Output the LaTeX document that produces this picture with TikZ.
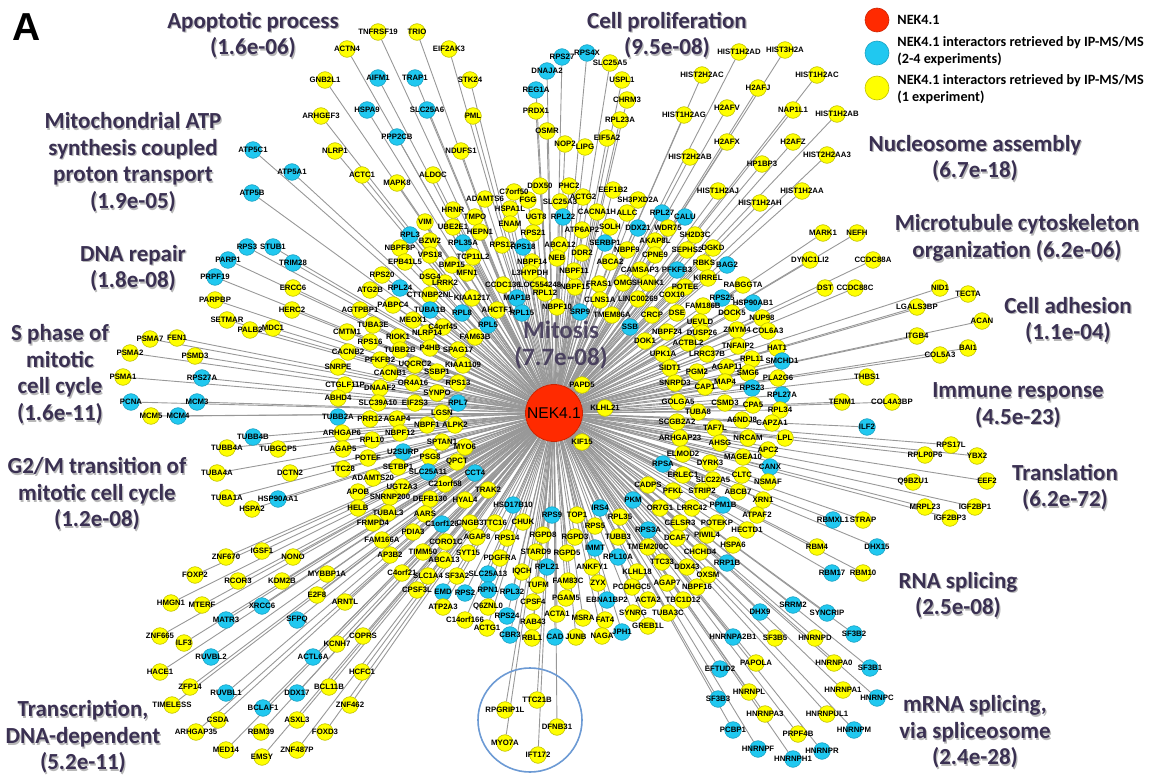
\documentclass[tikz,border=0pt]{standalone}
\usepackage{fontspec}
\setmainfont{Carlito}
\newfontfamily\genefont{Liberation Sans}
\definecolor{nodeyel}{RGB}{255,255,0}
\definecolor{nodecya}{RGB}{32,200,240}
\definecolor{hubred}{RGB}{255,42,0}
\definecolor{termcol}{RGB}{58,48,82}
\definecolor{linkcol}{RGB}{152,152,152}
\definecolor{ringcol}{RGB}{108,154,212}
\pgfdeclarelayer{edges}
\pgfsetlayers{edges,main}
\tikzset{
	gene/.style={circle,inner sep=0pt,minimum size=8.3pt,line width=0.3pt},
	yel/.style={fill=nodeyel,draw=nodeyel!75!black},
	cya/.style={fill=nodecya,draw=nodecya!80!black},
	glabel/.style={inner sep=0pt,font=\genefont\bfseries\fontsize{3.9}{4}\selectfont},
	link/.style={draw=linkcol,line width=0.45pt},
	hubnode/.style={circle,inner sep=0pt,minimum size=28.5pt,fill=hubred,draw=hubred!80!black,line width=0.4pt},
	term/.style={align=center,text=termcol,font=\bfseries\fontsize{11.5}{13.3}\selectfont,inner sep=0pt},
	termshadow/.style={term,text=black,opacity=0.28},
	legtext/.style={anchor=west,align=left,inner sep=0pt,font=\bfseries\fontsize{7.1}{8.8}\selectfont}
}
\def\genes{
378/32/yel/TNFRSF19, 417/32/yel/TRIO, 347/49/yel/ACTN4, 449/49/yel/EIF2AK3, 325/80/yel/GNB2L1, 378/78/cya/AIFM1, 415/78/cya/TRAP1, 470/80/yel/STK24, 367/110/cya/HSPA9, 427/110/cya/SLC25A6, 473/116/yel/PML, 321/116/yel/ARHGEF3, 397/137/cya/PPP2CB, 335/151/yel/NLRP1, 461/151/yel/NDUFS1, 362/175/yel/ACTC1, 397/183/yel/MAPK8, 433/175/yel/ALDOC,
253/150/cya/ATP5C1, 292/172/cya/ATP5A1, 252/193/cya/ATP5B, 247/247/cya/RPS3, 273/247/cya/STUB1, 228/260/cya/PARP1, 293/263/cya/TRIM28,
562/57/cya/RPS27, 547/71/cya/DNAJA2, 536/90/cya/REG1A, 536/111/yel/PRDX1, 547/131/yel/OSMR, 565/144/yel/NOP2, 585/147/yel/LIPG, 514/192/yel/C7orf50, 540/186/yel/DDX50, 569/186/yel/PHC2, 485/199/yel/ADAMTS6, 528/200/yel/FGG, 560/202/yel/SLC25A3, 510/209/yel/HSPA1L, 453/210/yel/HRNR, 536/217/yel/UGT8, 563/217/cya/RPL22, 475/217/yel/TMPO, 510/224/yel/ENAM, 425/222/yel/VIM, 453/227/yel/UBE2E1, 480/232/yel/HEPN1, 533/233/yel/RPS21, 582/230/yel/ATP6AP2, 410/235/cya/RPL3, 430/241/yel/BZW2, 463/243/cya/RPL35A, 502/245/yel/RPS12, 523/247/cya/RPS18, 560/245/yel/ABCA12, 582/253/yel/DDR2, 400/248/yel/NBPF8P, 430/255/yel/VPS18, 473/257/yel/TCP11L2, 532/262/yel/NBPF14, 557/258/yel/NEB, 405/262/yel/EPB41L5, 452/265/yel/BMP15,
587/53/cya/RPS4X, 610/63/yel/SLC25A5, 622/80/yel/USPL1, 627/100/yel/CHRM3, 620/120/yel/RPL23A, 607/138/yel/EIF5A2, 739/52/yel/HIST1H2AD, 785/50/yel/HIST3H2A, 702/75/yel/HIST2H2AC, 817/75/yel/HIST1H2AC, 758/88/yel/H2AFJ, 684/115/yel/HIST1H2AG, 727/108/yel/H2AFV, 793/110/yel/NAP1L1, 837/114/yel/HIST1H2AB, 727/142/yel/H2AFX, 793/142/yel/H2AFZ, 690/157/yel/HIST2H2AB, 827/155/yel/HIST2H2AA3, 762/164/yel/HP1BP3, 718/191/yel/HIST1H2AJ, 802/191/yel/HIST1H2AA, 760/203/yel/HIST1H2AH, 613/190/yel/EEF1B2, 583/197/yel/ACTG2, 638/200/yel/SH3PXD2A, 597/212/yel/CACNA1H, 627/213/yel/ALLC, 662/213/cya/RPL27, 685/217/cya/CALU, 610/227/yel/SOLH, 638/228/cya/DDX21, 668/228/yel/WDR75, 605/243/cya/SERBP1, 655/241/yel/AKAP8L, 695/235/yel/SH2D3C, 627/250/yel/NBPF9, 655/255/yel/CPNE9, 687/250/yel/SEPHS2, 713/248/yel/DGKD, 610/262/yel/ABCA2, 704/263/yel/RBKS, 727/265/cya/BAG2, 823/233/yel/MARK1, 857/233/yel/NEFH, 810/260/yel/DYNC1LI2, 873/260/yel/CCDC88A,
215/277/cya/PRPF19, 215/300/yel/PARPBP, 227/320/yel/SETMAR, 250/330/yel/PALB2, 273/328/yel/MDC1, 293/288/yel/ERCC6, 292/310/yel/HERC2, 150/339/yel/PSMA7, 177/338/yel/FEN1, 130/353/yel/PSMA2, 195/356/yel/PSMD3, 123/377/yel/PSMA1, 202/378/cya/RPS27A, 131/402/cya/PCNA, 197/402/cya/MCM3, 151/416/yel/MCM5, 178/416/cya/MCM4, 253/437/cya/TUBB4B, 227/448/yel/TUBB4A, 278/449/yel/TUBGCP5, 217/473/yel/TUBA4A, 290/473/yel/DCTN2, 227/498/yel/TUBA1A, 278/499/cya/HSP90AA1, 252/509/yel/HSPA2,
382/275/yel/RPS20, 430/277/yel/DSG4, 467/273/yel/MFN1, 530/273/yel/L3HYPDH, 503/285/yel/CCDC136, 540/285/yel/LOC554248, 575/287/yel/NBPF15, 574/271/yel/NBPF11, 445/283/yel/LRRK2, 370/290/yel/ATG2B, 400/288/cya/RPL24, 430/295/yel/CTTNBP2NL, 472/298/yel/KIAA1217, 517/298/cya/MAP1B, 545/293/yel/RPL12, 557/307/yel/NBPF10, 360/310/yel/AGTPBP1, 393/305/yel/PABPC4, 430/310/cya/TUBA1B, 462/313/cya/RPL8, 497/310/yel/AHCTF1, 522/313/cya/RPL15, 580/312/cya/SRP9, 413/320/yel/MEOX1, 443/327/yel/C4orf45, 488/325/cya/RPL5, 373/325/yel/TUBA3E, 347/332/yel/CMTM1, 398/337/yel/RIOK1, 427/333/yel/NLRP14, 475/337/yel/FAM63B, 370/342/yel/RPS16, 400/350/yel/TUBB2B, 430/348/yel/P4HB, 458/350/yel/SPAG17, 348/352/yel/CACNB2, 380/360/yel/PFKFB2, 415/365/yel/UQCRC2, 463/365/yel/KIAA1109, 338/367/yel/SNRPE, 390/373/yel/CACNB1, 437/372/yel/SSBP1, 345/385/yel/CTGLF11P, 380/388/yel/DNAAF2, 413/383/yel/OR4A16, 458/383/yel/RPS13, 437/393/yel/SYNPO, 338/398/yel/ABHD4, 378/403/yel/SLC39A10, 415/403/yel/EIF2S3, 458/403/cya/RPL7, 442/413/yel/LGSN, 338/417/cya/TUBB2A, 370/419/yel/PRR12, 397/419/yel/AGAP4, 427/425/yel/NBPF1, 455/425/yel/ALPK2, 342/433/yel/ARHGAP6, 400/433/yel/NBPF12, 372/440/yel/RPL10, 442/442/yel/SPTAN1, 465/447/yel/MYO6, 343/449/yel/AGAP5, 403/452/cya/U2SURP, 430/457/yel/PSG8, 368/458/yel/POTEF, 457/462/yel/QPCT, 343/469/yel/TTC28, 398/467/yel/SETBP1, 428/472/cya/SLC25A11, 475/473/cya/CCT4, 373/478/yel/ADAMTS20, 445/484/yel/C21orf58, 402/487/yel/UGT2A3, 488/490/yel/TRAK2, 358/492/yel/APOB, 390/497/yel/SNRNP200, 430/499/yel/DEFB130, 465/500/yel/HYAL4, 513/505/cya/HSD17B10, 358/508/yel/HELB, 388/513/yel/TUBAL3, 425/514/yel/AARS, 552/515/cya/RPS9, 577/515/yel/TOP1, 373/523/yel/FRMPD4, 442/524/cya/C1orf126, 470/523/yel/CNGB3, 495/523/yel/TTC16, 523/522/yel/CHUK, 582/385/yel/PAPD5, 582/442/yel/KIF15,
640/270/yel/CAMSAP3, 677/270/cya/PFKFB3, 708/278/yel/KIRREL, 599/284/yel/FRAS1, 623/283/yel/OMG, 648/283/yel/SHANK1, 685/287/yel/POTEE, 743/285/yel/RABGGTA, 825/288/yel/DST, 855/288/yel/CCDC88C, 600/300/yel/CLNS1A, 638/299/yel/LINC00269, 672/295/yel/COX10, 722/298/cya/RPS25, 753/303/cya/HSP90AB1, 703/306/yel/FAM186B, 677/313/yel/DSE, 732/313/yel/DOCK5, 762/318/yel/NUP98, 612/315/yel/TMEM86A, 652/315/yel/CRCP, 630/327/cya/SSB, 700/322/yel/UEVLD, 737/330/yel/ZMYM4, 768/331/yel/COL6A3, 667/332/yel/NBPF24, 702/333/yel/DUSP26, 645/341/yel/DOK1, 688/343/yel/ACTBL2, 738/346/yel/TNFAIP2, 777/348/yel/HAT1, 663/354/yel/UPK1A, 707/354/yel/LRRC37B, 752/359/yel/RPL11, 782/361/cya/SMCHD1, 670/368/yel/SIDT1, 697/372/yel/PGM2, 727/367/yel/AGAP11, 748/373/yel/SMG6, 867/377/yel/THBS1, 675/383/yel/SNRPD3, 705/387/yel/CAP1, 725/382/yel/MAP4, 778/378/yel/PLA2G6, 752/388/cya/RPS23, 782/395/cya/RPL27A, 842/402/yel/TENM1, 678/402/yel/GOLGA5, 725/403/yel/CSMD3, 753/405/yel/CPA5, 605/408/yel/KLHL21, 698/412/yel/TUBA8, 780/410/yel/RPL34, 742/420/yel/A6NDJ8, 677/422/yel/SCGB2A2, 715/428/yel/TAF7L, 772/423/yel/CAPZA1, 867/427/cya/ILF2, 680/438/yel/ARHGAP23, 748/438/yel/NRCAM, 785/438/yel/LPL, 720/443/yel/AHSG, 683/454/yel/ELMOD2, 743/457/yel/MAGEA10, 768/450/yel/APC2, 710/463/yel/DYRK3, 663/464/cya/RPSA, 770/467/cya/CANX, 683/475/yel/ERLEC1, 742/475/yel/CLTC, 713/480/yel/SLC22A5, 768/482/yel/NSMAF, 648/485/yel/CADPS, 673/491/yel/PFKL, 702/491/yel/STRIP2, 738/492/yel/ABCB7, 763/500/yel/XRN1, 633/500/cya/PKM, 660/508/yel/OR7G1, 692/508/yel/LRRC42, 723/505/cya/PPM1B, 757/515/yel/ATPAF2, 600/508/cya/IRS4, 620/517/yel/RPL35, 595/526/yel/RPS5, 680/523/yel/CELSR3, 717/523/yel/POTEKP, 747/530/yel/HECTD1, 833/520/cya/RBMXL1, 863/520/yel/STRAP,
940/288/yel/NID1, 968/294/yel/TECTA, 917/307/yel/LGALS3BP, 982/321/yel/ACAN, 917/336/yel/ITGB4, 968/348/yel/BAI1, 940/355/yel/COL5A3, 892/402/yel/COL4A3BP, 951/445/yel/RPS17L, 925/455/yel/RPLP0P6, 977/456/yel/YBX2, 987/481/yel/EEF2, 913/482/yel/Q9BZU1, 975/507/yel/IGF2BP1, 925/507/yel/MRPL23, 950/518/yel/IGF2BP3,
262/551/yel/IGSF1, 226/557/yel/ZNF670, 293/557/yel/NONO, 195/575/yel/FOXP2, 238/581/yel/RCOR3, 282/581/yel/KDM2B, 171/603/yel/HMGN1, 202/605/yel/MTERF, 262/606/cya/XRCC6, 226/620/cya/MATR3, 160/636/yel/ZNF665, 184/643/yel/ILF3, 211/657/cya/RUVBL2, 160/672/yel/HACE1, 190/687/yel/ZFP14, 226/693/cya/RUVBL1, 172/705/yel/TIMELESS, 263/708/cya/BCLAF1, 218/720/yel/CSDA, 196/732/yel/ARHGAP35, 261/732/yel/RBM39, 226/750/yel/MED14, 262/757/yel/EMSY,
382/540/yel/FAM166A, 413/532/yel/PDIA3, 446/542/yel/CORO1C, 477/537/yel/AGAP8, 507/538/yel/RPS14, 543/535/yel/RGPD8, 575/537/yel/RGPD3, 390/555/yel/AP3B2, 423/552/yel/TIMM50, 444/560/yel/ABCA13, 468/553/yel/SYT15, 500/558/yel/PDGFRA, 536/552/yel/STARD9, 567/553/yel/RGPD5, 327/574/yel/MYBBP1A, 402/573/yel/C4orf21, 428/576/yel/SLC1A4, 457/576/yel/SF3A2, 488/574/cya/SLC25A13, 522/572/yel/IQCH, 547/567/cya/RPL21, 568/581/yel/FAM83C, 538/585/yel/TUFM, 417/590/yel/CPSF3L, 443/592/cya/EMD, 465/593/cya/RPS2, 488/590/cya/RPN1, 512/592/cya/RPL32, 533/602/yel/CPSF4, 566/598/yel/PGAM5, 317/595/yel/E2F8, 345/602/yel/ARNTL, 297/620/cya/SFPQ, 443/607/yel/ATP2A3, 488/607/yel/Q6ZNL0, 465/620/yel/C14orf166, 507/616/cya/RPS24, 533/622/yel/RAB43, 557/614/yel/ACTA1, 583/618/yel/MSRA, 487/628/yel/ACTG1, 510/635/cya/CBR3, 532/638/yel/RBL1, 555/637/cya/CAD, 576/637/yel/JUNB, 363/636/yel/COPRS, 337/644/yel/KCNH7, 313/657/cya/ACTL6A, 362/672/yel/HCFC1, 329/687/yel/BCL11B, 297/693/cya/DDX17, 350/705/yel/ZNF462, 297/720/yel/ASXL3, 325/732/yel/FOXD3, 297/750/yel/ZNF487P, 537/700/yel/TTC21B, 505/710/yel/RPGRIP1L, 557/727/yel/DFNB31, 505/743/yel/MYO7A, 538/755/yel/IFT172,
648/530/cya/RPS3A, 618/537/yel/TUBB3, 677/538/yel/DCAF7, 707/535/yel/PIWIL4, 733/545/yel/HSPA6, 817/547/yel/RBM4, 877/547/cya/DHX15, 595/548/cya/IMMT, 648/547/yel/TMEM200C, 700/552/yel/CHCHD4, 618/557/cya/RPL10A, 727/563/cya/RRP1B, 832/573/cya/RBM17, 863/573/yel/RBM10, 592/567/yel/ANKFY1, 662/562/yel/TTC33, 637/572/yel/KLHL18, 687/567/yel/DDX43, 708/575/yel/OXSM, 598/583/yel/ZYX, 632/587/yel/PCDHGC5, 667/583/yel/AGAP7, 697/587/yel/NBPF16, 607/600/cya/EBNA1BP2, 648/600/yel/ACTA2, 683/600/yel/TBC1D12, 793/605/cya/SRRM2, 760/612/cya/DHX9, 827/613/cya/SYNCRIP, 605/620/yel/FAT4, 633/613/yel/SYNRG, 668/613/yel/TUBA3C, 648/626/yel/GREB1L, 622/632/cya/JPH1, 602/636/yel/NAGA, 854/634/cya/SF3B2, 733/637/cya/HNRNPA2B1, 775/638/yel/SF3B5, 815/638/yel/HNRNPD, 756/663/yel/PAPOLA, 720/669/cya/EFTUD2, 834/663/yel/HNRNPA0, 870/668/cya/SF3B1, 749/692/yel/HNRNPL, 843/690/yel/HNRNPA1, 877/698/cya/HNRNPC, 718/699/cya/SF3B3, 765/714/yel/HNRNPA3, 827/714/yel/HNRNPUL1, 733/730/cya/PCBP1, 854/730/cya/HNRNPM, 798/734/yel/PRPF4B, 758/749/cya/HNRNPF, 822/751/cya/HNRNPR, 793/759/cya/HNRNPH1}
\begin{document}
\begin{tikzpicture}[x=0.5pt,y=-0.5pt]
	\useasboundingbox (0,0) rectangle (1153,776);
	\node[inner sep=0pt,font=\genefont\bfseries\fontsize{19.5}{20}\selectfont] (panel) at (27,27) {A};
	\foreach \x/\y/\t [count=\k] in {
		253/35/{Apoptotic process\\(1.6e-06)},
		667/35/{Cell proliferation\\(9.5e-08)},
		133/162/{Mitochondrial ATP\\synthesis coupled\\proton transport\\(1.9e-05)},
		133/268/{DNA repair\\(1.8e-08)},
		60/374/{S phase of\\mitotic\\cell cycle\\(1.6e-11)},
		97/494/{G2/M transition of\\mitotic cell cycle\\(1.2e-08)},
		83/737/{Transcription,\\DNA-dependent\\(5.2e-11)},
		975/158/{Nucleosome assembly\\(6.7e-18)},
		1017/238/{Microtubule cytoskeleton\\organization (6.2e-06)},
		1068/320/{Cell adhesion\\(1.1e-04)},
		1018/405/{Immune response\\(4.5e-23)},
		1065/487/{Translation\\(6.2e-72)},
		958/595/{RNA splicing\\(2.5e-08)},
		975/732/{mRNA splicing,\\via spliceosome\\(2.4e-28)}}{
		\node[termshadow] (s\k) at (\x+1.2,\y+1.8) {\t};
		\node[term] (t\k) at (\x,\y) {\t};
	}
	\node[hubnode] (hub) at (554,413) {};
	\foreach \x/\y/\c/\n in \genes {
		\node[gene,\c] (\n) at (\x,\y) {};
	}
	\begin{pgfonlayer}{edges}
		\foreach \x/\y/\c/\n in \genes {
			\draw[link] (hub) -- (\n);
		}
	\end{pgfonlayer}
	\node[term,opacity=0.85,font=\bfseries\fontsize{12.5}{13.3}\selectfont] (mitosis) at (561,345) {Mitosis\\(7.7e-08)};
	\foreach \x/\y/\c/\n in \genes {
		\node[glabel] (\n-l) at (\n) {\n};
	}
	\node[font=\genefont\fontsize{7.8}{8}\selectfont,inner sep=0pt] (hublabel) at (hub) {NEK4.1};
	\draw[ringcol,line width=0.8pt] (530,720) circle (26pt);
	\node[circle,inner sep=0pt,minimum size=12pt,fill=hubred,draw=hubred!80!black,line width=0.3pt] (leghub) at (877,20) {};
	\node[gene,cya,minimum size=12pt] (legcya) at (877,53) {};
	\node[gene,yel,minimum size=12pt] (legyel) at (877,88) {};
	\node[legtext] (legt1) at (897,20) {NEK4.1};
	\node[legtext] (legt2) at (897,51) {NEK4.1 interactors retrieved by IP-MS/MS\\(2-4 experiments)};
	\node[legtext] (legt3) at (897,89) {NEK4.1 interactors retrieved by IP-MS/MS\\(1 experiment)};
\end{tikzpicture}
\end{document}
